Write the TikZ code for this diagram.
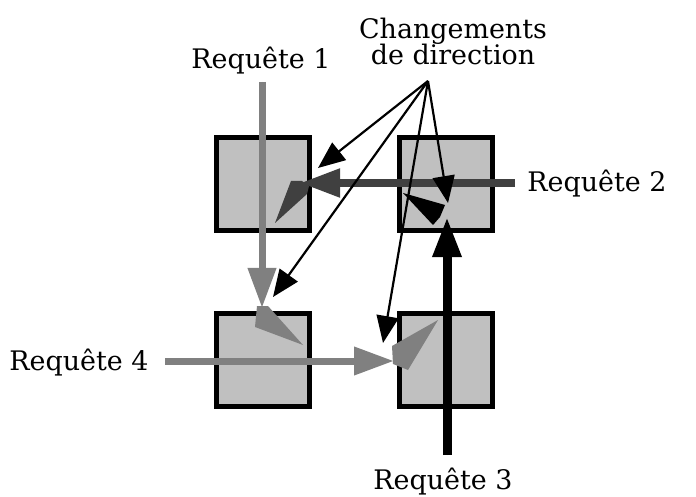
\documentclass[tikz,border=0pt]{standalone}
\usepackage{fontspec}
\newfontfamily\lab{DejaVu Serif}
\usetikzlibrary{arrows.meta}
\definecolor{midgray}{HTML}{808080}
\definecolor{darkgray2}{HTML}{404040}
\definecolor{boxfill}{HTML}{C0C0C0}
\tikzset{
  blk/.style={draw=black, fill=boxfill, line width=5bp, minimum size=93bp, inner sep=0pt},
  lbl/.style={font=\lab\fontsize{27}{27}\selectfont, inner sep=0pt, anchor=base},
  bigtip/.style={-{Triangle[length=40bp,width=27bp]}},
  reqgray/.style={bigtip, draw=midgray, fill=midgray, line width=7bp},
  reqdark/.style={bigtip, draw=darkgray2, fill=darkgray2, line width=8bp},
  reqblack/.style={bigtip, draw=black, fill=black, line width=9bp},
  ann/.style={-{Triangle[length=27bp,width=22bp]}, draw=black, line width=2.2bp},
}
\begin{document}
\begin{tikzpicture}[x=1bp,y=-1bp]
\useasboundingbox (0,0) rectangle (696,497);
% boxes
\node[blk] (tl) at (263,184) {};
\node[blk] (tr) at (446,184) {};
\node[blk] (bl) at (263,360) {};
\node[blk] (br) at (446,360) {};
% labels
\node[lbl] (l1) at (261,69) {Requête 1};
\node[lbl] (lc1) at (453,39) {Changements};
\node[lbl] (lc2) at (453,65) {de direction};
\node[lbl] (l2) at (597,192) {Requête 2};
\node[lbl] (l3) at (443,489) {Requête 3};
\node[lbl] (l4) at (79,370) {Requête 4};
% coordinates of request paths
\coordinate (r1s) at (262,82);
\coordinate (r1e) at (262,308);
\coordinate (r2s) at (515,183);
\coordinate (r2e) at (300,183);
\coordinate (r3s) at (447,455);
\coordinate (r3e) at (447,217);
\coordinate (r4s) at (165,361);
\coordinate (r4e) at (394,361);
% main request arrows
\draw[reqgray] (r1s) -- (r1e);
\draw[reqdark] (r2s) -- (r2e);
\draw[reqblack] (r3s) -- (r3e);
\draw[reqgray] (r4s) -- (r4e);
% direction change wedges
\fill[midgray] (257,306) -- (268,306) -- (303,345) -- (255,327) -- cycle;
\fill[darkgray2] (291,181) -- (302,181) -- (309,186) -- (307,194) -- (275,223) -- cycle;
\fill[black] (403,193) -- (445,205) -- (440,217) -- (433,225) -- cycle;
\fill[midgray] (392,346) -- (438,320) -- (408,370) -- (393,364) -- cycle;
% annotation arrows
\coordinate (src) at (428,81);
\coordinate (atl) at (318,168);
\coordinate (abl) at (273,297);
\coordinate (atr) at (448,203);
\coordinate (abr) at (383,343);
\draw[ann] (src) -- (atl);
\draw[ann] (src) -- (abl);
\draw[ann] (src) -- (atr);
\draw[ann] (src) -- (abr);
\end{tikzpicture}
\end{document}
